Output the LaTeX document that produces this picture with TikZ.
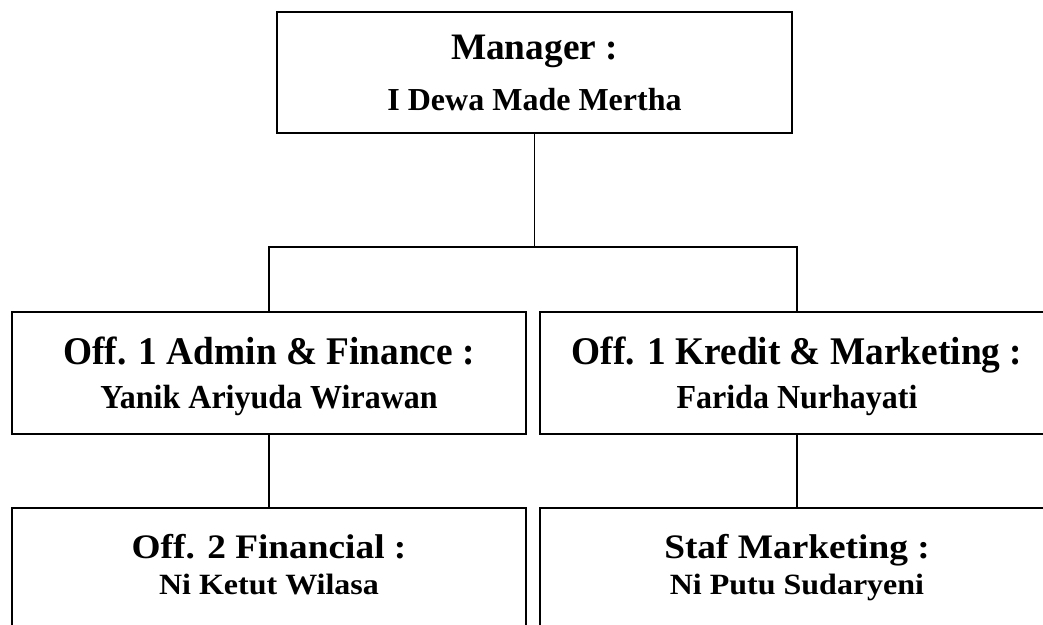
\documentclass[tikz,border=0pt]{standalone}
\usepackage{graphicx}
\usepackage{fontspec}
\setmainfont{Liberation Serif}
\newcommand{\ttl}[3]{\rule{0pt}{#1}\scalebox{1}[#2]{#3}}
\newcommand{\nme}[4]{\fontsize{24}{#1}\selectfont\rule[-#2]{0pt}{#2}\scalebox{1}[#3]{#4}}
\begin{document}
\begin{tikzpicture}[x=0.75pt,y=-0.75pt,
  box/.style={draw, line width=1.5pt, rectangle, inner sep=0pt,
    minimum width=385.5pt, minimum height=91.5pt, align=center},
  conn/.style={draw, line width=1pt}]
\useasboundingbox (0,0) rectangle (1043,625);
\clip (0,0) rectangle (1043,625);
\node[box, minimum width=386.25pt, minimum height=90.75pt,
  font=\bfseries\fontsize{28}{38.25}\selectfont] (mgr) at (534.5,72.5)
  {\ttl{25.5pt}{1}{Manager :}\\ \nme{38.25}{7.5pt}{1}{I Dewa Made Mertha}};
\node[box, font=\bfseries\fontsize{28}{33}\selectfont] (adm) at (269,373)
  {\ttl{27pt}{1.05}{Off. 1 Admin \& Finance :}\\ \nme{33}{7.5pt}{1.05}{Yanik Ariyuda Wirawan}};
\node[box, font=\bfseries\fontsize{28}{33}\selectfont] (krd) at (797,373)
  {\ttl{27pt}{1.05}{Off. 1 Kredit \& Marketing :}\\ \nme{33}{7.5pt}{1.05}{Farida Nurhayati}};
\node[box, font=\bfseries\fontsize{28}{27}\selectfont] (fin) at (269,569)
  {\ttl{19.5pt}{0.92}{Off. 2 Financial :}\\ \nme{27}{9pt}{0.92}{Ni Ketut Wilasa}};
\node[box, font=\bfseries\fontsize{28}{27}\selectfont] (stf) at (797,569)
  {\ttl{19.5pt}{0.92}{Staf Marketing :}\\ \nme{27}{9pt}{0.92}{Ni Putu Sudaryeni}};
\coordinate (bus) at (534.5,247);
\draw[conn] (mgr.south) -- (bus);
\draw[conn] (adm.north) |- (bus) -| (krd.north);
\draw[conn] (adm.south) -- (fin.north);
\draw[conn] (krd.south) -- (stf.north);
\end{tikzpicture}
\end{document}
